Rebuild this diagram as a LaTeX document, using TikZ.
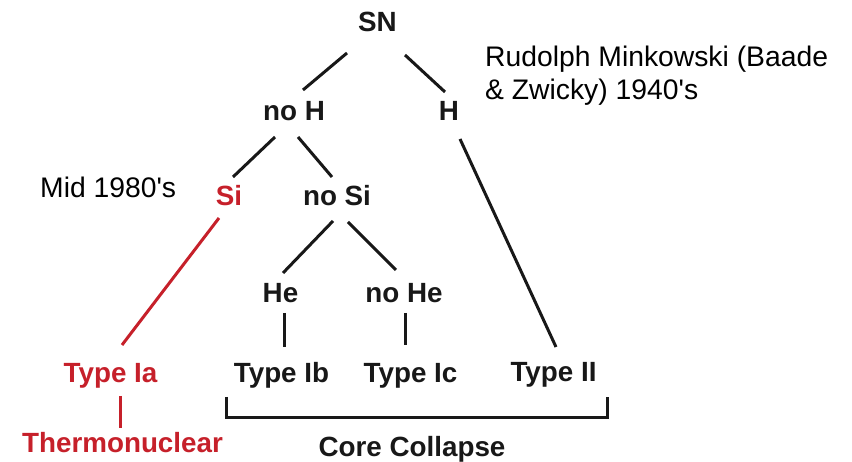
\documentclass[tikz,border=0pt]{standalone}
\usepackage{fontspec}
\setmainfont{Liberation Sans}
\definecolor{ink}{RGB}{24,24,24}
\definecolor{sired}{RGB}{198,32,42}
\begin{document}
\begin{tikzpicture}[x=1pt,y=1pt,
  lab/.style={font=\fontsize{27.8}{32}\selectfont\bfseries, text=ink, inner sep=0pt, anchor=base},
  redlab/.style={lab, text=sired},
  note/.style={font=\fontsize{28.3}{33}\selectfont, text=black, inner sep=0pt, anchor=base west},
  branch/.style={draw=ink, line width=3pt},
  redbranch/.style={draw=sired, line width=3pt}]
\useasboundingbox (0,0) rectangle (852,462);

% labels of the classification tree
\node[lab]    (SN)    at (377.5,430) {SN};
\node[lab]    (noH)   at (294,341)   {no H};
\node[lab]    (H)     at (449,341)   {H};
\node[redlab] (Si)    at (229,256)   {Si};
\node[lab]    (noSi)  at (337,256)   {no Si};
\node[lab]    (He)    at (280.5,159) {He};
\node[lab]    (noHe)  at (404,159)   {no He};
\node[redlab] (Ia)    at (110.5,79)  {Type Ia};
\node[lab]    (Ib)    at (281.5,79)  {Type Ib};
\node[lab]    (Ic)    at (410.5,79)  {Type Ic};
\node[lab]    (II)    at (553.5,80)  {Type II};
\node[redlab] (thermo) at (122.5,9)  {Thermonuclear};
\node[lab]    (core)  at (412,5)     {Core Collapse};

% historical notes
\node[note] (rud1) at (485,395) {Rudolph Minkowski (Baade};
\node[note] (rud2) at (485,362) {\& Zwicky) 1940\textquotesingle s};
\node[note] (mid)  at (40,264)  {Mid 1980\textquotesingle s};

% branches
\draw[branch] ([shift={(-30.5,-21)}]SN.base) -- ([shift={(9,31)}]noH.base);
\draw[branch] ([shift={(27.5,-23)}]SN.base) -- ([shift={(-4,29)}]H.base);
\draw[branch] ([shift={(-19,-16)}]noH.base) -- ([shift={(4,29)}]Si.base);
\draw[branch] ([shift={(4,-16)}]noH.base) -- ([shift={(-5,29)}]noSi.base);
\draw[branch] ([shift={(11,-18)}]H.base) -- ([shift={(2.5,35)}]II.base);
\draw[redbranch] ([shift={(-10,-12)}]Si.base) -- ([shift={(11.5,38)}]Ia.base);
\draw[branch] ([shift={(-4,-15)}]noSi.base) -- ([shift={(2.5,30)}]He.base);
\draw[branch] ([shift={(11,-16)}]noSi.base) -- ([shift={(-8,33)}]noHe.base);
\draw[branch] ([shift={(3.5,-10)}]He.base) -- ([shift={(2.5,36)}]Ib.base);
\draw[branch] ([shift={(1,-10)}]noHe.base) -- ([shift={(-5.5,38)}]Ic.base);
\draw[redbranch] ([shift={(9.5,-13)}]Ia.base) -- ([shift={(-2.5,25)}]thermo.base);

% bracket grouping the core-collapse types
\coordinate (brL) at ([shift={(-55.5,-14)}]Ib.base);
\coordinate (brR) at ([shift={(53.5,-15)}]II.base);
\draw[branch, line cap=butt] (brL) -- ++(0,-21) -| (brR);
\end{tikzpicture}
\end{document}
